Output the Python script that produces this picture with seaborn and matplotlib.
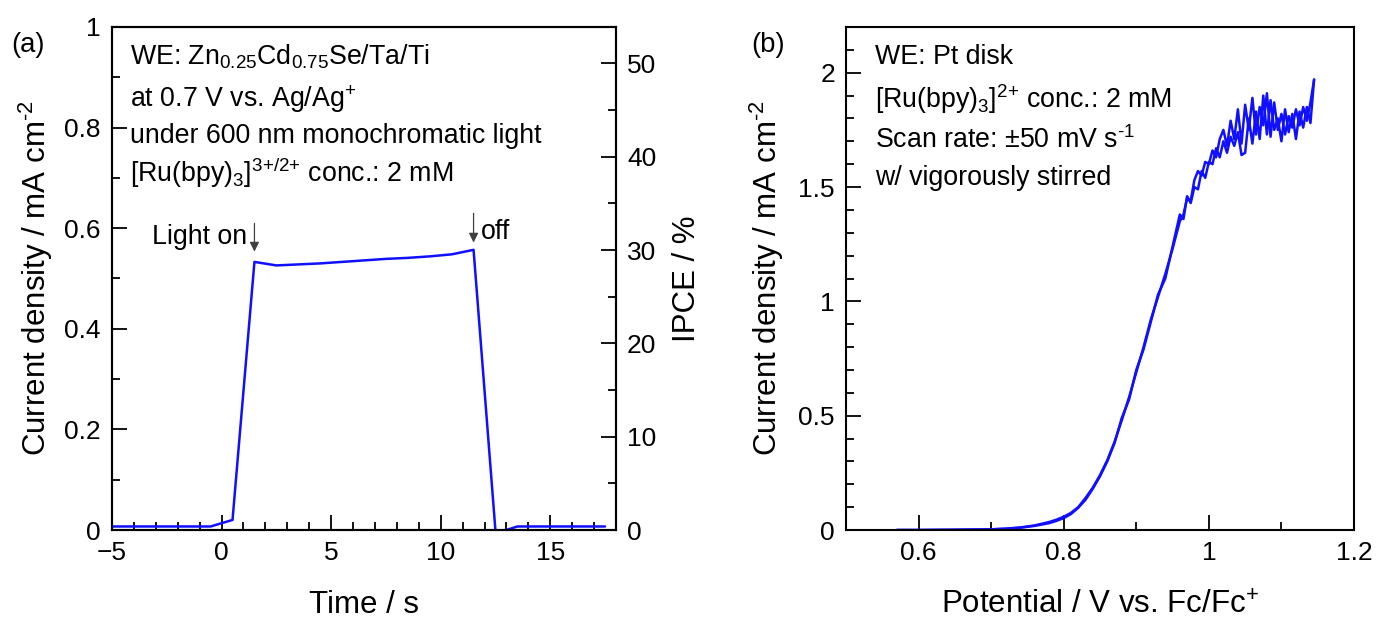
import numpy as np
import pandas as pd
import matplotlib
matplotlib.use("Agg")
import matplotlib.pyplot as plt
from matplotlib.ticker import MultipleLocator, FuncFormatter
import seaborn as sns

# ---------------- data ----------------
# panel (a): chronoamperometry under chopped light
time_s = [-5, -4.5, -3.5, -2.5, -1.5, -0.5, 0.5, 1.5, 2.5, 3.5, 4.5, 5.5, 6.5, 7.5,
          8.5, 9.5, 10.5, 11.5, 12.5, 13.0, 13.5, 14.5, 15.5, 16.5, 17.5]
current_a = [0.007, 0.007, 0.007, 0.007, 0.007, 0.007, 0.020, 0.533, 0.526, 0.528,
             0.530, 0.533, 0.536, 0.539, 0.541, 0.544, 0.548, 0.557, -0.002, 0.000,
             0.007, 0.007, 0.007, 0.007, 0.007]

# panel (b): CV of Pt disk, forward and reverse sweep
pot_fwd = [0.57, 0.60, 0.65, 0.70, 0.72, 0.74, 0.76, 0.78, 0.79, 0.80, 0.81, 0.82,
           0.83, 0.84, 0.85, 0.86, 0.87, 0.88, 0.89, 0.90, 0.91, 0.92, 0.93, 0.94,
           0.95, 0.96, 0.965, 0.97, 0.975, 0.98, 0.985, 0.99, 0.995, 1.00, 1.005, 1.01,
           1.015, 1.02, 1.025, 1.03, 1.035, 1.04, 1.045, 1.05, 1.055, 1.06, 1.065,
           1.07, 1.075, 1.08, 1.085, 1.09, 1.095, 1.10, 1.105, 1.11, 1.115, 1.12,
           1.125, 1.13, 1.135, 1.14, 1.145]
cur_fwd = [0.0, 0.0, 0.001, 0.003, 0.006, 0.011, 0.020, 0.035, 0.045, 0.058, 0.075,
           0.100, 0.140, 0.185, 0.240, 0.305, 0.385, 0.480, 0.580, 0.690, 0.800,
           0.920, 1.020, 1.120, 1.230, 1.350, 1.380, 1.450, 1.440, 1.530, 1.570,
           1.550, 1.610, 1.600, 1.660, 1.630, 1.710, 1.750, 1.680, 1.790, 1.710,
           1.840, 1.690, 1.860, 1.750, 1.890, 1.730, 1.850, 1.770, 1.910, 1.720,
           1.870, 1.750, 1.820, 1.730, 1.810, 1.760, 1.840, 1.770, 1.850, 1.790,
           1.870, 1.970]
pot_rev = [1.145, 1.14, 1.135, 1.13, 1.125, 1.12, 1.115, 1.11, 1.105, 1.10, 1.095,
           1.09, 1.085, 1.08, 1.075, 1.07, 1.065, 1.06, 1.055, 1.05, 1.045, 1.04,
           1.035, 1.03, 1.025, 1.02, 1.015, 1.01, 1.005, 1.00, 0.995, 0.99, 0.985,
           0.98, 0.975, 0.97, 0.965, 0.96, 0.95, 0.94, 0.93, 0.92, 0.91, 0.90, 0.89,
           0.88, 0.87, 0.86, 0.85, 0.84, 0.83, 0.82, 0.81, 0.80, 0.79, 0.78, 0.76,
           0.74, 0.72, 0.70, 0.65, 0.60, 0.57]
cur_rev = [1.970, 1.780, 1.850, 1.760, 1.830, 1.710, 1.820, 1.740, 1.840, 1.700,
           1.800, 1.750, 1.880, 1.730, 1.900, 1.710, 1.830, 1.690, 1.800, 1.650,
           1.640, 1.740, 1.680, 1.720, 1.650, 1.700, 1.630, 1.670, 1.600, 1.610,
           1.540, 1.570, 1.490, 1.500, 1.430, 1.460, 1.360, 1.380, 1.240, 1.100,
           1.030, 0.910, 0.790, 0.700, 0.570, 0.490, 0.380, 0.300, 0.235, 0.180,
           0.132, 0.097, 0.070, 0.052, 0.040, 0.030, 0.018, 0.010, 0.005, 0.003,
           0.001, 0.0, 0.0]

# IPCE conversion: 1 mA cm-2 corresponds to this IPCE (%)
ipce_per_ma = 53.9

# ---------------- style ----------------
sns.set_theme(style="ticks")
plt.rcParams["font.family"] = ["Liberation Sans", "DejaVu Sans"]
plt.rcParams["mathtext.fontset"] = "custom"
plt.rcParams["mathtext.rm"] = "Liberation Sans"
plt.rcParams["mathtext.it"] = "Liberation Sans:italic"
plt.rcParams["mathtext.bf"] = "Liberation Sans:bold"
plt.rcParams["axes.linewidth"] = 1.5
plt.rcParams["axes.edgecolor"] = "black"
plt.rcParams["text.color"] = "black"
plt.rcParams["axes.labelcolor"] = "black"
plt.rcParams["xtick.color"] = "black"
plt.rcParams["ytick.color"] = "black"

TICK_FS = 19
LABEL_FS = 22.5
TEXT_FS = 19.3
BLUE = "#1010ff"

fig = plt.figure(figsize=(13.76, 6.26), dpi=100)
ax1 = fig.add_axes([112 / 1376, (626 - 530) / 626, (616 - 112) / 1376, (530 - 27) / 626])
ax2 = fig.add_axes([846 / 1376, (626 - 530) / 626, (1354 - 846) / 1376, (530 - 27) / 626])

fmt = FuncFormatter(lambda v, p: ("%g" % v).replace("-", "\u2212"))


def style_ticks(ax, right=False):
    ax.tick_params(which="both", direction="in", colors="black", labelsize=TICK_FS,
                   top=False, right=right, width=1.3, pad=8)
    ax.tick_params(which="major", length=11)
    ax.tick_params(which="minor", length=6)


# ---------------- panel (a) ----------------
df_a = pd.DataFrame({"t": time_s, "j": current_a})
sns.lineplot(data=df_a, x="t", y="j", ax=ax1, color=BLUE, lw=1.8, sort=False)
ax1.set_xlim(-5, 18)
ax1.set_ylim(0, 1)
ax1.xaxis.set_major_locator(MultipleLocator(5))
ax1.xaxis.set_minor_locator(MultipleLocator(1))
ax1.yaxis.set_major_locator(MultipleLocator(0.2))
ax1.yaxis.set_minor_locator(MultipleLocator(0.1))
ax1.xaxis.set_major_formatter(fmt)
ax1.yaxis.set_major_formatter(fmt)
style_ticks(ax1)
ax1.set_xlabel("Time / s", fontsize=LABEL_FS, labelpad=18)
ax1.set_ylabel(r"Current density / mA cm$^{\text{-}2}$", fontsize=LABEL_FS, labelpad=7)

ax1r = ax1.twinx()
ax1r.set_ylim(0, ipce_per_ma)
ax1r.yaxis.set_major_locator(MultipleLocator(10))
ax1r.yaxis.set_minor_locator(MultipleLocator(5))
ax1r.yaxis.set_major_formatter(fmt)
ax1r.tick_params(which="both", direction="in", colors="black", labelsize=TICK_FS,
                 width=1.3, pad=8)
ax1r.tick_params(which="major", length=11)
ax1r.tick_params(which="minor", length=6)
ax1r.set_ylabel("IPCE / %", fontsize=LABEL_FS, labelpad=11)
for sp in ax1r.spines.values():
    sp.set_linewidth(1.5)

lines_a = [r"WE: Zn$_{0.25}$Cd$_{0.75}$Se/Ta/Ti",
           r"at 0.7 V vs. Ag/Ag$^{+}$",
           "under 600 nm monochromatic light",
           r"[Ru(bpy)$_{3}$]$^{3{+}/2{+}}$ conc.: 2 mM"]
ys_a = [57, 99, 136, 173]
for s, yp in zip(lines_a, ys_a):
    fig.text(130 / 1376, 1 - yp / 626, s, fontsize=TEXT_FS, ha="left", va="center")

ax1.annotate("", xy=(1.5, 0.548), xytext=(1.5, 0.615),
             arrowprops=dict(arrowstyle="-|>", color="0.25", lw=0.9, mutation_scale=14))
ax1.annotate("", xy=(11.5, 0.566), xytext=(11.5, 0.635),
             arrowprops=dict(arrowstyle="-|>", color="0.25", lw=0.9, mutation_scale=14))
ax1.text(1.15, 0.582, "Light on", fontsize=TEXT_FS, ha="right", va="center")
ax1.text(11.85, 0.593, "off", fontsize=TEXT_FS, ha="left", va="center")
fig.text(28 / 1376, 1 - 45 / 626, "(a)", fontsize=TEXT_FS + 0.5, ha="center", va="center")

# ---------------- panel (b) ----------------
df_f = pd.DataFrame({"E": pot_fwd, "j": cur_fwd})
df_r = pd.DataFrame({"E": pot_rev, "j": cur_rev})
sns.lineplot(data=df_f, x="E", y="j", ax=ax2, color=BLUE, lw=1.8, sort=False)
sns.lineplot(data=df_r, x="E", y="j", ax=ax2, color=BLUE, lw=1.8, sort=False)
ax2.set_xlim(0.5, 1.2)
ax2.set_ylim(0, 2.2)
ax2.xaxis.set_major_locator(MultipleLocator(0.2))
ax2.xaxis.set_minor_locator(MultipleLocator(0.1))
ax2.yaxis.set_major_locator(MultipleLocator(0.5))
ax2.yaxis.set_minor_locator(MultipleLocator(0.1))
ax2.xaxis.set_major_formatter(fmt)
ax2.yaxis.set_major_formatter(fmt)
style_ticks(ax2)
ax2.set_xlabel("Potential / V vs. Fc/Fc$^{+}$", fontsize=LABEL_FS, labelpad=18)
ax2.set_ylabel(r"Current density / mA cm$^{\text{-}2}$", fontsize=LABEL_FS, labelpad=9)

lines_b = ["WE: Pt disk",
           r"[Ru(bpy)$_{3}$]$^{2{+}}$ conc.: 2 mM",
           r"Scan rate: ±50 mV s$^{\text{-}1}$",
           "w/ vigorously stirred"]
ys_b = [57, 99, 140, 178]
for s, yp in zip(lines_b, ys_b):
    fig.text(875 / 1376, 1 - yp / 626, s, fontsize=TEXT_FS, ha="left", va="center")
fig.text(768 / 1376, 1 - 45 / 626, "(b)", fontsize=TEXT_FS + 0.5, ha="center", va="center")

for ax in (ax1, ax2):
    for sp in ax.spines.values():
        sp.set_visible(True)
        sp.set_linewidth(1.5)
        sp.set_color("black")

fig.savefig("out.png", dpi=100, facecolor="white")
